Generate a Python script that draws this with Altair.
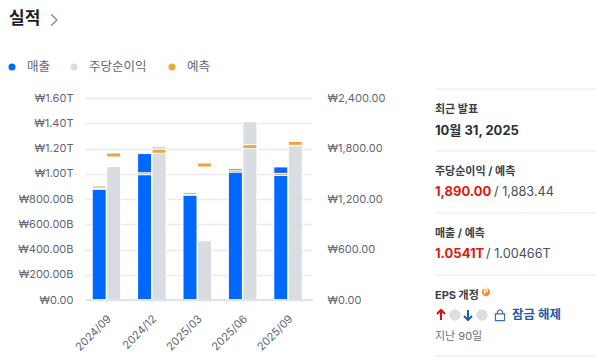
import altair as alt
import pandas as pd

FONT = "Inter, 'Noto Sans CJK KR', sans-serif"
periods = ["2024/09", "2024/12", "2025/03", "2025/06", "2025/09"]
revenue = [0.877, 1.16, 0.83, 1.04, 1.0541]
revenue_est = [0.895, 1.00, 0.845, 1.02, 0.995]
eps = [1584, 1830, 705, 2118, 1830]
eps_est = [1723, 1767, 1604, 1822, 1861]
rev_ticks = [0, 0.2, 0.4, 0.6, 0.8, 1.0, 1.2, 1.4, 1.6]
rev_labels = ["₩0.00", "₩200.00B", "₩400.00B", "₩600.00B", "₩800.00B", "₩1.00T", "₩1.20T", "₩1.40T", "₩1.60T"]
eps_ticks = [0, 600, 1200, 1800, 2400]

df = pd.DataFrame(dict(p=periods, rev=revenue, rev_est=revenue_est, eps=eps, eps_est=eps_est))

BLUE = "#0068ff"
GRAY = "#d9dce0"
ORANGE = "#f0a63e"
LABEL = "#5f6675"
GRID = "#e8eaef"

label_expr = "{" + ",".join(f"'{t:g}':'{l}'" for t, l in zip(rev_ticks, rev_labels)) + "}[datum.value]"
xs = alt.X("p:N", title=None, sort=periods,
           scale=alt.Scale(range=[-1, 226], paddingInner=0, paddingOuter=0),
           axis=alt.Axis(domain=False, ticks=False, grid=False, labelAngle=-45, labelAlign="right",
                         labelBaseline="middle", labelPadding=17, labelOffset=2, labelColor=LABEL, labelFont=FONT, labelFontSize=11))
ry = alt.Scale(domain=[0, 1.6], nice=False)
ey = alt.Scale(domain=[0, 2400], nice=False)
left = alt.Axis(values=rev_ticks, labelExpr=label_expr, domain=False, ticks=False, title=None, grid=True, gridColor=GRID,
                gridWidth=1.5, labelColor=LABEL, labelFont=FONT, labelFontSize=11, labelPadding=13)
right = alt.Axis(values=eps_ticks, labelExpr="'₩' + format(datum.value, ',.2f')", orient="right",
                 domain=False, ticks=False, grid=False, title=None, labelColor=LABEL, labelFont=FONT,
                 labelFontSize=11, labelPadding=14)

base = alt.Chart(df)
rev_bar = base.mark_bar(width=14, xOffset=-8.5, color=BLUE, stroke="white", strokeWidth=1).encode(
    x=xs, y=alt.Y("rev:Q", scale=ry, axis=left))
rev_tick = base.mark_tick(size=14, thickness=2, xOffset=-8.5, color=ORANGE, stroke="white", strokeWidth=1, opacity=1).encode(
    x=xs, y=alt.Y("rev_est:Q", scale=ry, axis=left))
rev_layer = alt.layer(rev_bar, rev_tick)

eps_bar = base.mark_bar(width=14, xOffset=6, color=GRAY, stroke="white", strokeWidth=1).encode(
    x=xs, y=alt.Y("eps:Q", scale=ey, axis=right))
eps_tick = base.mark_tick(size=14, thickness=4, xOffset=6, color=ORANGE, stroke="white", strokeWidth=1, opacity=1).encode(
    x=xs, y=alt.Y("eps_est:Q", scale=ey, axis=right))
eps_layer = alt.layer(eps_bar, eps_tick)

baseline = alt.Chart(pd.DataFrame({"a": [0]})).mark_rule(color="#dfe3ee", strokeWidth=2).encode(
    x=alt.value(0), x2=alt.value(227), y=alt.value(202))

OX, OY = 86, 98
def text(s, x, y, color="#2b2f36", size=13, weight="normal", align="left"):
    return alt.Chart(pd.DataFrame({"t": [s]})).mark_text(
        font=FONT, fontSize=size, fontWeight=weight, color=color, align=align, baseline="middle").encode(
        text="t:N", x=alt.value(x - OX), y=alt.value(y - OY))

def dot(x, y, color, size=50, opacity=1.0):
    return alt.Chart(pd.DataFrame({"a": [0]})).mark_point(filled=True, color=color, size=size, opacity=opacity).encode(
        x=alt.value(x - OX), y=alt.value(y - OY))

def rule(y):
    return alt.Chart(pd.DataFrame({"a": [0]})).mark_rule(color="#e6e9f0", strokeWidth=1).encode(
        x=alt.value(435 - OX), x2=alt.value(604 - OX), y=alt.value(y - OY))

def icon(path, x, y, color, size=100, width=1.5, filled=False):
    return alt.Chart(pd.DataFrame({"a": [0]})).mark_point(shape=path, size=size, filled=filled, color=color,
                                                          strokeWidth=width, opacity=1).encode(
        x=alt.value(x - OX), y=alt.value(y - OY))

CHEVRON = "M -0.5 -1 L 0.5 0 L -0.5 1"
LOCK = "M -0.8 -0.2 L 0.8 -0.2 L 0.8 1 L -0.8 1 Z M -0.45 -0.2 L -0.45 -0.6 Q 0 -1.2 0.45 -0.6 L 0.45 -0.2"
UP = "M 0 1 L 0 -1 M -0.8 -0.2 L 0 -1 L 0.8 -0.2"
DOWN = "M 0 -1 L 0 1 M -0.8 0.2 L 0 1 L 0.8 0.2"

extras = [
    text("실적", 9, 19, "#1a1d21", 17, "bold"),
    icon(CHEVRON, 54, 20, "#8a8f99", 130, 1.5),
    dot(12, 67, BLUE), text("매출", 27, 67, LABEL, 12.5),
    dot(74, 67, GRAY), text("주당순이익", 89, 67, LABEL, 12.5),
    dot(172, 67, ORANGE), text("예측", 187, 67, LABEL, 12.5),
    rule(89), rule(151), rule(213), rule(275), rule(356),
    text("최근 발표", 435, 110, "#3a3f47", 11, "bold"),
    text("10월 31, 2025", 435, 131, "#2b2f36", 13, "bold"),
    text("주당순이익 / 예측", 435, 172, "#3a3f47", 11, "bold"),
    text("1,890.00", 435, 192, "#e0190f", 13, "bold"),
    text("/ 1,883.44", 494, 192, "#4a4f57", 12.7),
    text("매출 / 예측", 435, 234, "#3a3f47", 11, "bold"),
    text("1.0541T", 435, 254, "#e0190f", 13, "bold"),
    text("/ 1.00466T", 486, 254, "#4a4f57", 12.7),
    text("EPS 개정", 435, 296, "#3a3f47", 11, "bold"),
    dot(486, 292, "#f5902a", 70),
    text("P", 486, 292, "white", 7, "bold", "center"),
    icon(UP, 441, 315, "#d0150c", 100, 2),
    dot(455, 315, "#bfc3c9", 130, 0.55),
    icon(DOWN, 468, 315, "#1c5fb0", 100, 2),
    dot(482, 315, "#bfc3c9", 130, 0.55),
    icon(LOCK, 500, 315, "#3f6fa8", 130, 1.2),
    text("잠금 해제", 512, 315, "#1f5aa6", 12.5, "bold"),
    text("지난 90일", 435, 337, "#6b7079", 11),
]

chart = alt.layer(
    alt.layer(rev_layer, eps_layer).resolve_scale(y="independent"),
    baseline, *extras
).properties(
    width=227, height=202,
    autosize=alt.AutoSizeParams(type="none"),
    padding={"left": 78, "top": 90, "right": 283, "bottom": 60},
    background="white",
).configure_view(stroke=None)

chart.save("out.html", embed_options={"renderer": "svg", "actions": False})
